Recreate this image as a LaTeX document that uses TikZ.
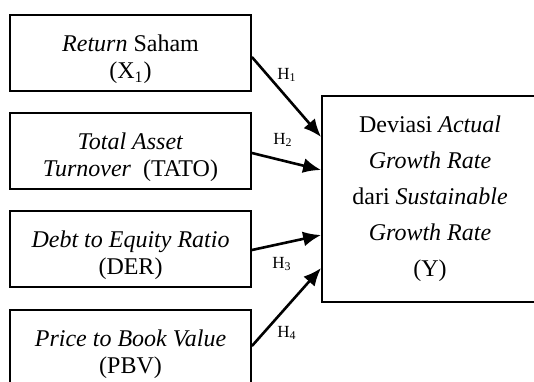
\documentclass[tikz,border=0pt]{standalone}
\usepackage{fontspec}
\setmainfont{Liberation Serif}
\usetikzlibrary{arrows.meta}

\tikzset{
	varbox/.style={draw, line width=0.9pt, minimum width=120.5pt, minimum height=38pt, inner sep=0pt, align=center, font=\fontsize{12}{13.5}\selectfont},
	ybox/.style={draw, line width=0.9pt, minimum width=108pt, minimum height=103pt, inner sep=0pt, align=center, font=\fontsize{12}{18}\selectfont},
	hyp/.style={line width=1.3pt, -{Latex[length=9pt, width=7.5pt]}},
	hlabel/.style={font=\fontsize{8.5}{9}\selectfont}
}
\newcommand{\topstrut}{\rule{0pt}{15pt}}

\begin{document}
\begin{tikzpicture}[x=0.5pt, y=-0.5pt]
	\useasboundingbox (0,0) rectangle (534,381);
	\clip (0,0) rectangle (534,381);

	%independent variables
	\node[varbox] (ret) at (130.5,53) {\topstrut\textit{Return} Saham\\(X\textsubscript{1})};
	\node[varbox] (tato) at (130.5,151) {\topstrut\textit{Total Asset}\\\textit{Turnover}\ \ (TATO)};
	\node[varbox] (der) at (130.5,249) {\topstrut\textit{Debt to Equity Ratio}\\(DER)};
	\node[varbox] (pbv) at (130.5,348) {\topstrut\textit{Price to Book Value}\\(PBV)};

	%dependent variable
	\node[ybox] (y) at (430,199) {Deviasi \textit{Actual}\\\textit{Growth Rate}\\dari \textit{Sustainable}\\\textit{Growth Rate}\\(Y)};

	%hypotheses
	\draw[hyp] ([yshift=-2pt]ret.east) -- ([yshift=31pt]y.west) node[hlabel] at (287,75) {H\textsubscript{1}};
	\draw[hyp] ([yshift=-1pt]tato.east) -- ([yshift=14.5pt]y.west) node[hlabel] at (283,140) {H\textsubscript{2}};
	\draw[hyp] ([yshift=-0.5pt]der.east) -- ([yshift=-18pt]y.west) node[hlabel] at (282,264) {H\textsubscript{3}};
	\draw[hyp] ([yshift=1pt]pbv.east) -- ([yshift=-34.5pt]y.west) node[hlabel] at (287,333) {H\textsubscript{4}};
\end{tikzpicture}
\end{document}
